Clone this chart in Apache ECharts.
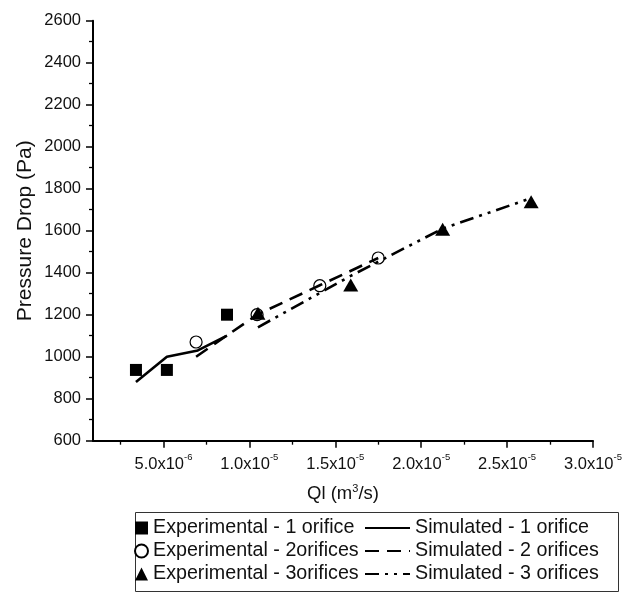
<!DOCTYPE html>
<html>
<head>
<meta charset="utf-8">
<script src="https://cdn.jsdelivr.net/npm/echarts@6/dist/echarts.min.js"></script>
<style>
html,body{margin:0;padding:0;background:#fff;}
#c{width:644px;height:592px;}
</style>
</head>
<body>
<div id="c"></div>
<script>
// ---- data (x in m^3/s, y in Pa) ----
var exp1X = [3.4e-6, 5.2e-6, 8.7e-6];
var exp1Y = [937, 937, 1200];
var exp2X = [6.9e-6, 10.45e-6, 14.1e-6, 17.5e-6];
var exp2Y = [1070, 1200, 1338, 1470];
var exp3X = [10.5e-6, 15.9e-6, 21.25e-6, 26.4e-6];
var exp3Y = [1207, 1341, 1607, 1738];
var sim1X = [3.4e-6, 5.2e-6, 7.0e-6, 8.7e-6];
var sim1Y = [880, 1000, 1030, 1100];
var sim2X = [6.9e-6, 10.45e-6, 14.1e-6, 17.5e-6];
var sim2Y = [1000, 1200, 1340, 1470];
var sim3X = [10.5e-6, 15.9e-6, 21.25e-6, 26.4e-6];
var sim3Y = [1140, 1385, 1610, 1755];

var seriesNames = ['Experimental - 1 orifice', 'Experimental - 2orifices', 'Experimental - 3orifices',
                   'Simulated - 1 orifice', 'Simulated - 2 orifices', 'Simulated - 3 orifices'];
var xMajorTicks = [5e-6, 1.0e-5, 1.5e-5, 2.0e-5, 2.5e-5, 3.0e-5];
var xMinorTicks = [2.5e-6, 7.5e-6, 1.25e-5, 1.75e-5, 2.25e-5, 2.75e-5];
var xAxisTitle = 'Ql (m{s|3}/s)';
var yAxisTitle = 'Pressure Drop (Pa)';

function pairs(xs, ys) { return xs.map(function (x, i) { return [x, ys[i]]; }); }

function sciLabel(v) {
  var e = Math.floor(Math.log10(v) + 1e-9);
  var m = v / Math.pow(10, e);
  return '{m|' + m.toFixed(1) + 'x10}{e|' + e + '}';
}

var FONT = 'Liberation Sans, Arial, sans-serif';
var black = '#000';

var chart = echarts.init(document.getElementById('c'), null, {renderer: 'canvas'});
var option = {
  backgroundColor: '#fff',
  animation: false,
  textStyle: {fontFamily: FONT},
  grid: {left: 93, right: 51, top: 20.7, bottom: 151.3, containLabel: false},
  xAxis: [{
    type: 'value', min: 0.9e-6, max: 3.0e-5,
    axisLine: {show: true, onZero: false, lineStyle: {color: black, width: 2}},
    axisTick: {show: true, customValues: xMajorTicks, length: 7, lineStyle: {color: black, width: 1.5}},
    axisLabel: {
      show: true, customValues: xMajorTicks, margin: 12,
      formatter: function (v) { return sciLabel(v); },
      rich: {
        m: {fontSize: 16.5, fontFamily: FONT, color: '#111', lineHeight: 20, verticalAlign: 'bottom'},
        e: {fontSize: 9.5, fontFamily: FONT, color: '#111', lineHeight: 20, verticalAlign: 'top'}
      }
    },
    splitLine: {show: false},
    name: xAxisTitle, nameLocation: 'middle', nameGap: 43, nameMoveOverlap: false,
    nameTextStyle: {fontSize: 18.5, fontFamily: FONT, color: '#111',
      rich: {s: {fontSize: 11, fontFamily: FONT, color: '#111', verticalAlign: 'top', lineHeight: 20}}}
  }, {
    type: 'value', min: 0.9e-6, max: 3.0e-5, position: 'bottom',
    axisLine: {show: false},
    axisTick: {show: true, customValues: xMinorTicks, length: 4, lineStyle: {color: black, width: 1.3}},
    axisLabel: {show: false},
    splitLine: {show: false}
  }],
  yAxis: {
    type: 'value', min: 600, max: 2600, interval: 200,
    axisLine: {show: true, onZero: false, lineStyle: {color: black, width: 2}},
    axisTick: {show: true, length: 7, lineStyle: {color: black, width: 1.5}},
    minorTick: {show: true, splitNumber: 2, length: 4, lineStyle: {color: black, width: 1.3}},
    axisLabel: {fontSize: 16.5, color: '#111', margin: 12, fontFamily: FONT,
      formatter: function (v) { return String(v); }},
    splitLine: {show: false},
    name: yAxisTitle, nameLocation: 'middle', nameGap: 57, nameMoveOverlap: false,
    nameTextStyle: {fontSize: 21, color: '#111', fontFamily: FONT}
  },
  legend: [{
    orient: 'vertical', left: 134, top: 518, padding: 0, itemGap: 3,
    itemWidth: 13, itemHeight: 13,
    textStyle: {fontSize: 19.7, color: '#111', fontFamily: FONT},
    data: seriesNames.slice(0, 3)
  }, {
    orient: 'vertical', left: 364, top: 518, padding: 0, itemGap: 3,
    itemWidth: 45, itemHeight: 13,
    itemStyle: {opacity: 0},
    textStyle: {fontSize: 19.7, color: '#111', fontFamily: FONT},
    data: seriesNames.slice(3)
  }],
  graphic: [{
    type: 'rect', left: 133, top: 510, z: -1,
    shape: {width: 483, height: 79},
    style: {fill: 'none', stroke: '#333', lineWidth: 1}
  }],
  series: [
    {name: seriesNames[0], type: 'scatter', symbol: 'rect', symbolSize: 12,
     itemStyle: {color: black, opacity: 1}, data: pairs(exp1X, exp1Y)},
    {name: seriesNames[1], type: 'scatter', symbol: 'circle', symbolSize: 12,
     itemStyle: {color: '#fff', borderColor: black, borderWidth: 1.2, opacity: 1}, data: pairs(exp2X, exp2Y)},
    {name: seriesNames[2], type: 'scatter', symbol: 'triangle', symbolSize: [15, 13],
     itemStyle: {color: black, opacity: 1}, data: pairs(exp3X, exp3Y)},
    {name: seriesNames[3], type: 'line', symbol: 'none', showSymbol: false,
     lineStyle: {color: black, width: 2.6, type: 'solid'}, itemStyle: {color: black},
     data: pairs(sim1X, sim1Y)},
    {name: seriesNames[4], type: 'line', symbol: 'none', showSymbol: false,
     lineStyle: {color: black, width: 2.6, type: [14, 8]}, itemStyle: {color: black},
     data: pairs(sim2X, sim2Y)},
    {name: seriesNames[5], type: 'line', symbol: 'none', showSymbol: false,
     lineStyle: {color: black, width: 2.6, type: [14, 6, 3, 6, 3, 6]}, itemStyle: {color: black},
     data: pairs(sim3X, sim3Y)}
  ]
};
chart.setOption(option);
</script>
</body>
</html>
